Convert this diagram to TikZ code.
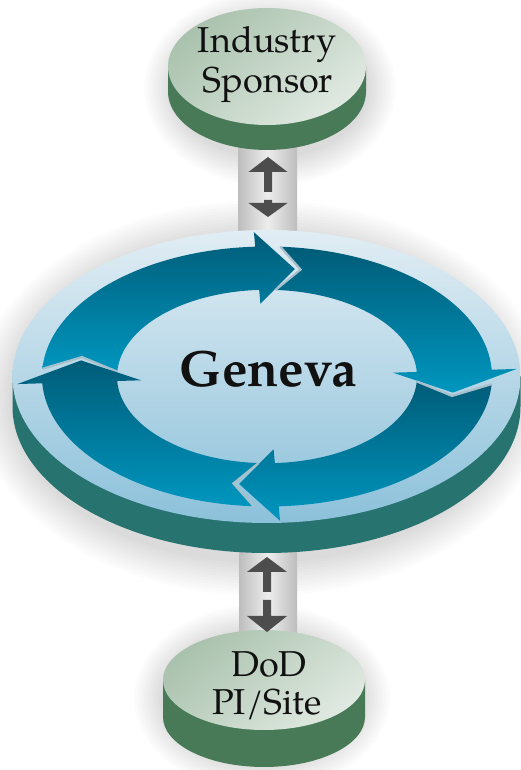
\documentclass[tikz,border=0pt]{standalone}
\usepackage{fontspec}
\setmainfont{TeX Gyre Pagella}
\usetikzlibrary{calc}
\definecolor{ringdark}{HTML}{005C78}
\definecolor{ringlight}{HTML}{0096BF}
\definecolor{facetop}{HTML}{E1EDF4}
\definecolor{facebot}{HTML}{8CC1DA}
\definecolor{sideteal}{HTML}{27736F}
\definecolor{greenside}{HTML}{487A58}
\definecolor{greentop}{HTML}{A9C2AD}
\definecolor{greenbot}{HTML}{E0E9E1}
\definecolor{notchcol}{HTML}{A8BFCC}
\definecolor{arrowgray}{HTML}{4D4D4D}
\definecolor{tubeedge}{HTML}{BDBDBD}
\definecolor{tubemid}{HTML}{EDEDED}
\definecolor{textcol}{HTML}{111111}
\begin{document}
\begin{tikzpicture}[x=1pt,y=1pt,
  seg/.style={top color=ringdark, bottom color=ringlight},
  notchline/.style={draw=notchcol, line width=2.2pt, line join=miter},
  tube/.style={left color=tubeedge, right color=tubeedge, middle color=tubemid},
  dblarrow/.style={fill=arrowgray},
  glow/.style={fill=black, opacity=0.012},
  greenface/.style={top color=greentop, bottom color=greenbot, shading angle=40},
  label/.style={text=textcol, inner sep=0pt, font=\fontsize{36}{40}\selectfont},
  mainlabel/.style={text=textcol, inner sep=0pt, font=\fontsize{51}{51}\selectfont\bfseries}]
\useasboundingbox (0,0) rectangle (521,770);
\fill[white] (0,0) rectangle (521,770);

% named centres
\coordinate (maincentre) at (266.5,393.5);
\coordinate (topcentre) at (267,703.5);
\coordinate (botcentre) at (264,90);

% soft shadows
\foreach \i in {1,...,12} {
  \fill[glow] (262,372) ellipse[x radius=250+3*\i, y radius=162+3*\i];
  \fill[glow] (270,682) ellipse[x radius=96+2.5*\i, y radius=68+2.5*\i];
  \fill[glow] (262,72) ellipse[x radius=98+2.5*\i, y radius=64+2.5*\i];
}

% tubes
\shade[tube] (238,530) rectangle (297,655);
\shade[tube] (239,100) rectangle (297,250);

% main disk
\fill[sideteal] (12.5,393.5) -- (12.5,363.5) arc[start angle=180,end angle=360,x radius=254,y radius=146.5] -- (520.5,393.5) -- cycle;
\shade[top color=facetop,bottom color=facebot] (maincentre) ellipse[x radius=254, y radius=146.5];

% top disk
\fill[greenside] (168,703.5) -- (168,678.5) arc[start angle=180,end angle=360,x radius=99,y radius=58.5] -- (366,703.5) -- cycle;
\shade[greenface] (topcentre) ellipse[x radius=99, y radius=58.5];

% bottom disk
\fill[greenside] (163,90) -- (163,53) arc[start angle=180,end angle=360,x radius=101,y radius=50] -- (365,90) -- cycle;
\shade[greenface] (botcentre) ellipse[x radius=101, y radius=50];

% upper double arrow
\fill[dblarrow] (268,613) -- (287.5,598) -- (272,598) -- (272,578) -- (264,578) -- (264,598) -- (248.5,598) -- cycle;
\fill[dblarrow] (268,553) -- (287.5,567) -- (272,567) -- (272,570) -- (264,570) -- (264,567) -- (248.5,567) -- cycle;
% lower double arrow
\fill[dblarrow] (267,213) -- (287,198) -- (271,198) -- (271,178) -- (263,178) -- (263,198) -- (247,198) -- cycle;
\fill[dblarrow] (267,138) -- (287,154) -- (271,154) -- (271,170) -- (263,170) -- (263,154) -- (247,154) -- cycle;

% ring of four arrows
\begin{scope}[shift={(267,393.5)}]
\foreach \b in {93,3,-87,-177} {
  \pgfmathsetmacro{\so}{\b+83.6}
  \pgfmathsetmacro{\si}{\b+83.75}
  \pgfmathsetmacro{\nt}{\b+76.7}
  \pgfmathsetmacro{\tp}{\b-11.5}
  \shade[seg] (\so:225 and 130) arc[start angle=\so, end angle=\b, x radius=225, y radius=130]
    -- (\b:250 and 144.5) -- (\tp:188 and 108.7) -- (\b:126 and 72.8) -- (\b:150 and 86.7)
    arc[start angle=\b, end angle=\si, x radius=150, y radius=86.7]
    -- (\nt:188 and 108.7) -- cycle;
  \draw[notchline] (\so:225 and 130) -- (\nt:188 and 108.7) -- (\si:150 and 86.7);
}
\end{scope}

% labels
\node[label, anchor=base] (sponsorA) at (267,717) {Industry};
\node[label, anchor=base] (sponsorB) at (268,677) {Sponsor};
\node[mainlabel, anchor=base] (geneva) at (268.5,383) {Geneva};
\node[label, anchor=base] (dodA) at (269,93) {DoD};
\node[label, anchor=base] (dodB) at (267,55) {PI/Site};
\end{tikzpicture}
\end{document}
